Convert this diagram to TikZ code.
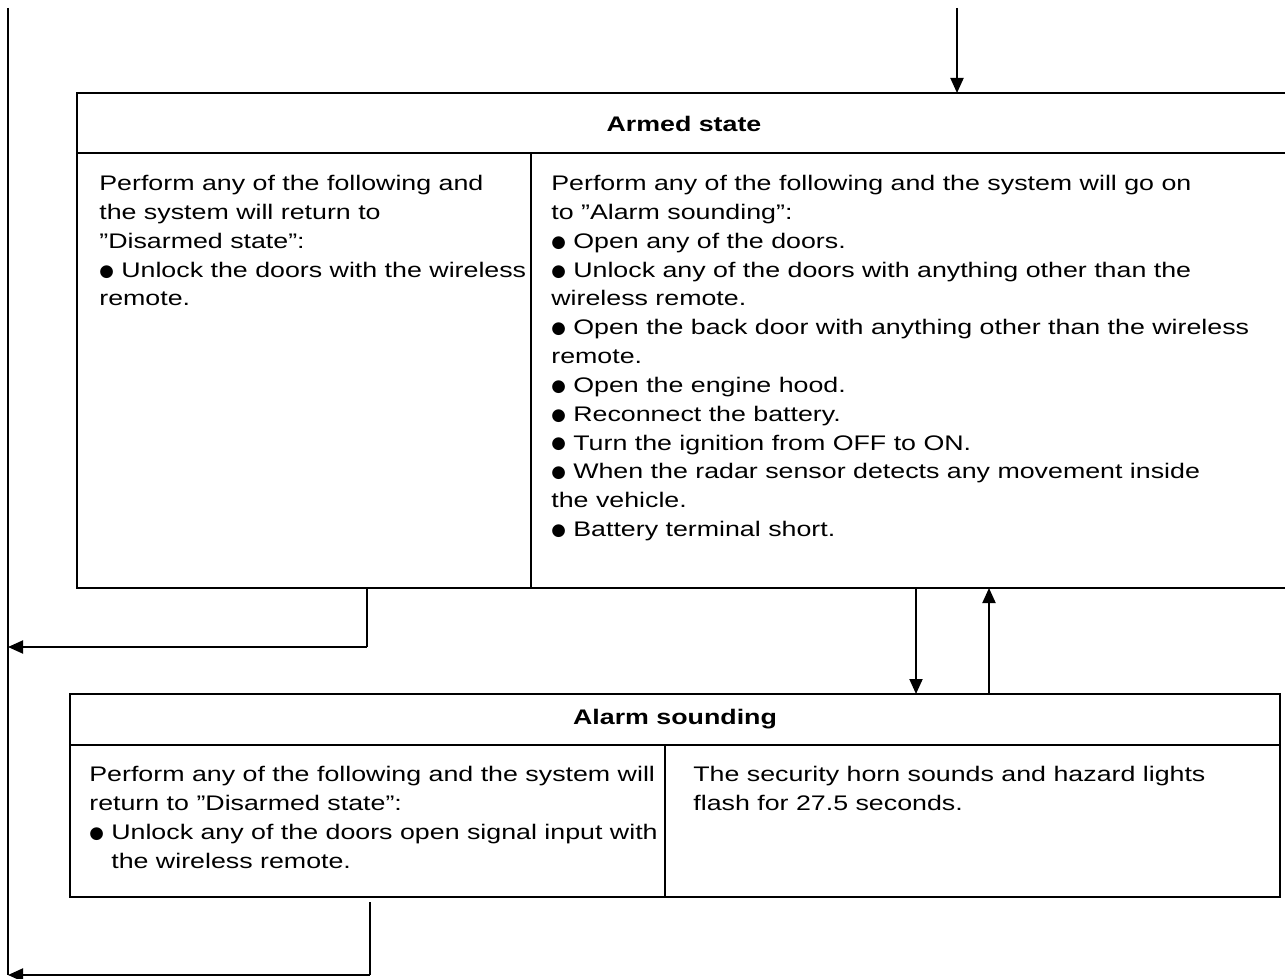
\documentclass[tikz,border=0pt]{standalone}
\usepackage{fontspec}
\setmainfont{Liberation Sans}[FakeStretch=1.27]
\newfontfamily\symfont{DejaVu Sans}
\usetikzlibrary{arrows.meta}

% bullet of the lists
\newcommand\bul{\makebox[12.5pt][l]{\raisebox{0.6pt}{\symfont\fontsize{9.5}{9.5}\selectfont ●}}}

\begin{document}
\begin{tikzpicture}[x=0.2mm,y=-0.2mm,
	frame/.style={line width=1.1pt},
	rule/.style={line width=0.6pt},
	flow/.style={line width=1.1pt,-{Triangle[length=3mm,width=2.6mm]}},
	txt/.style={anchor=north west,inner sep=0pt,align=left,font=\fontsize{12}{16.4}\selectfont},
	head/.style={inner sep=0pt,font=\bfseries\fontsize{12}{16.4}\selectfont}]

% ---------- Parameters of the drawing (pixel units, y downwards) ----------
\def\ReturnX{8}            % x of the return line on the left
\def\ArmedLeft{77}         % left edge of the armed box
\def\ArmedTop{93}
\def\ArmedHead{153}        % line below the title
\def\ArmedBottom{588}
\def\ArmedSplit{531}       % divider between the columns
\def\AlarmLeft{70}
\def\AlarmRight{1280}
\def\AlarmTop{694}
\def\AlarmHead{745}
\def\AlarmBottom{897}
\def\AlarmSplit{665}

\useasboundingbox (0,0) rectangle (1285,979);

% ---------- Armed state box (open on the right) ----------
\draw[frame] (1285,\ArmedTop) -- (\ArmedLeft,\ArmedTop) -- (\ArmedLeft,\ArmedBottom) -- (1285,\ArmedBottom);
\draw[rule] (\ArmedLeft,\ArmedHead) -- (1285,\ArmedHead);
\draw[rule] (\ArmedSplit,\ArmedHead) -- (\ArmedSplit,\ArmedBottom);

\node[head] (armedtitle) at (684,124) {Armed state};
\node[txt] (armedleft) at (99,175) {Perform any of the following and\\the system will return to\\”Disarmed state”:\\\bul Unlock the doors with the wireless\\remote.};
\node[txt] (armedright) at (551,175) {Perform any of the following and the system will go on\\to ”Alarm sounding”:\\\bul Open any of the doors.\\\bul Unlock any of the doors with anything other than the\\wireless remote.\\\bul Open the back door with anything other than the wireless\\remote.\\\bul Open the engine hood.\\\bul Reconnect the battery.\\\bul Turn the ignition from OFF to ON.\\\bul When the radar sensor detects any movement inside\\the vehicle.\\\bul Battery terminal short.};

% ---------- Alarm sounding box ----------
\draw[frame] (\AlarmLeft,\AlarmTop) rectangle (\AlarmRight,\AlarmBottom);
\draw[rule] (\AlarmLeft,\AlarmHead) -- (\AlarmRight,\AlarmHead);
\draw[rule] (\AlarmSplit,\AlarmHead) -- (\AlarmSplit,\AlarmBottom);

\node[head] (alarmtitle) at (675,719) {Alarm sounding};
\node[txt] (alarmleft) at (89,766) {Perform any of the following and the system will\\return to ”Disarmed state”:\\\bul Unlock any of the doors open signal input with\\\hspace*{4.4mm}the wireless remote.};
\node[txt] (alarmright) at (693,766) {The security horn sounds and hazard lights\\flash for 27.5 seconds.};

% ---------- Connection points ----------
\coordinate (start) at (957,8);
\coordinate (armedin) at (957,\ArmedTop);
\coordinate (armedout) at (916,\ArmedBottom);
\coordinate (alarmin) at (916,\AlarmTop);
\coordinate (alarmout) at (989,\AlarmTop);
\coordinate (armedback) at (989,\ArmedBottom);
\coordinate (armedexit) at (367,\ArmedBottom);
\coordinate (armedturn) at (367,647);
\coordinate (disarmA) at (\ReturnX,647);
\coordinate (alarmexit) at (370,902);
\coordinate (alarmturn) at (370,975);
\coordinate (disarmB) at (\ReturnX,975);
\coordinate (returntop) at (\ReturnX,8);

% ---------- Arrows ----------
\draw[flow] (start) -- (armedin);
\draw[flow] (armedout) -- (alarmin);
\draw[flow] (alarmout) -- (armedback);

% ---------- Return to disarmed state ----------
\draw[line width=0.7pt] (returntop) -- (disarmB);
\draw[line width=0.6pt] (armedexit) -- (armedturn);
\draw[flow] (armedturn) -- (disarmA);
\draw[line width=0.6pt] (alarmexit) -- (alarmturn);
\draw[flow] (alarmturn) -- (disarmB);

\end{tikzpicture}
\end{document}
